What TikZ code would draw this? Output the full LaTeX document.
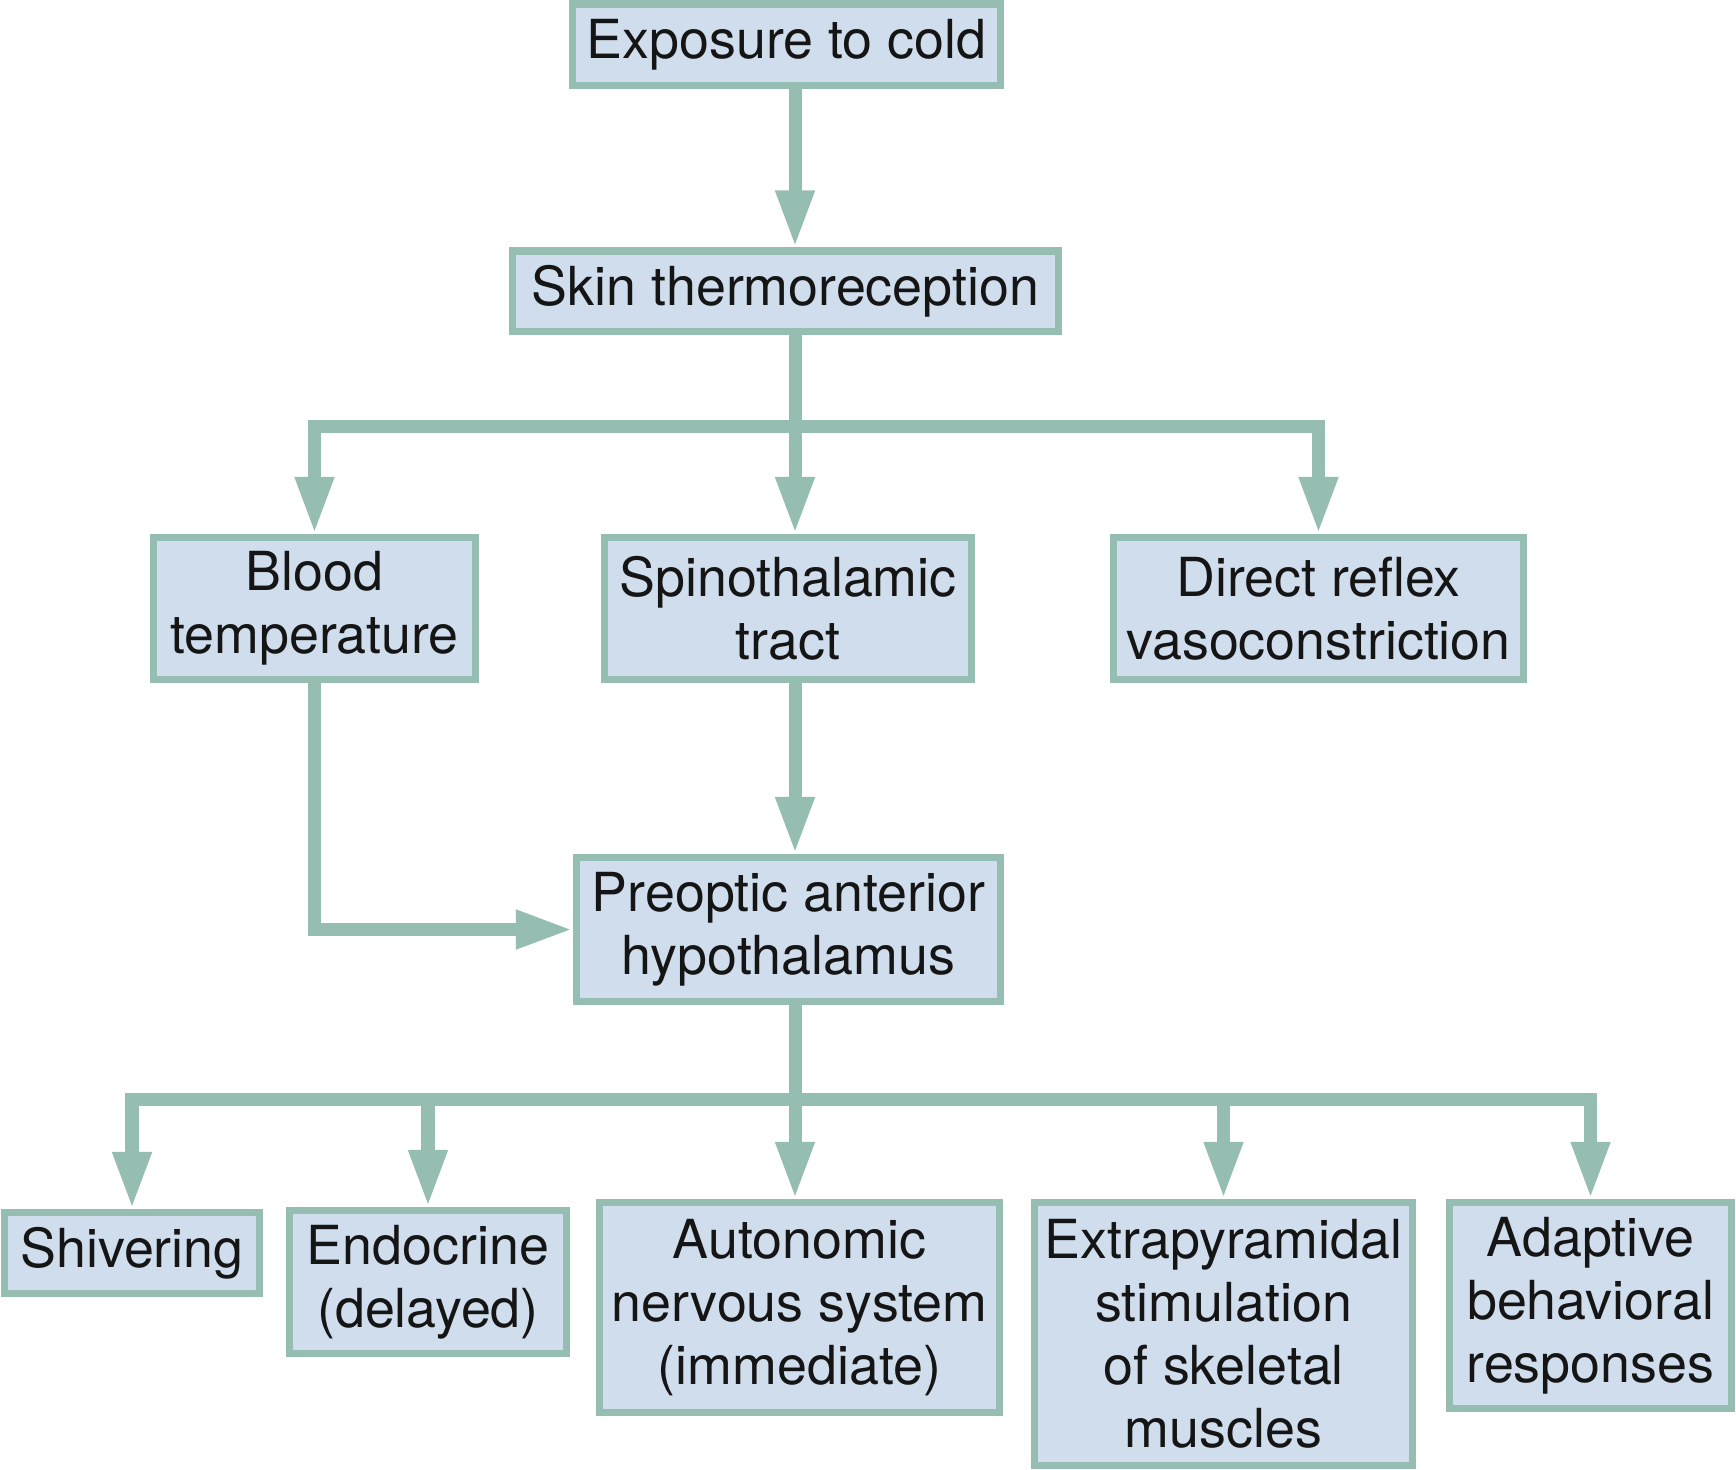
\documentclass[tikz,border=0pt]{standalone}
\usepackage{fontspec}
\setmainfont{TeX Gyre Heros}
\usepackage{tikz}
\usetikzlibrary{positioning, arrows.meta}
\definecolor{cLine}{HTML}{96BDB1}
\definecolor{cFill}{HTML}{CFDDED}
\definecolor{cInk}{HTML}{151515}

\begin{document}
\begin{tikzpicture}[x=0.01cm, y=-0.01cm, >={Triangle[length=0.57cm, width=0.36cm]},
  box/.style={draw=cLine, line width=2pt, fill=cFill, text=cInk, align=center, inner sep=0pt,
    font=\fontsize{15.3}{17.9}\selectfont},
  link/.style={cLine, line width=3.7pt}]
  \useasboundingbox (0,0) rectangle (1736,1469);
  % top chain
  \node[box, minimum width=4.28cm, minimum height=0.81cm] (expo) at (786.5,44.5) {Exposure to cold};
  \node[box, minimum width=5.46cm, minimum height=0.80cm] (skin) at (785.5,291) {Skin thermoreception};
  % middle row
  \node[box, minimum width=3.22cm, minimum height=1.42cm] (blood) at (314.5,608.5) {Blood\\temperature};
  \node[box, minimum width=3.67cm, minimum height=1.42cm] (spino) at (788,608.5) {Spinothalamic\\tract};
  \node[box, minimum width=4.10cm, minimum height=1.42cm] (direct) at (1318.5,608.5) {Direct reflex\\vasoconstriction};
  \node[box, minimum width=4.24cm, minimum height=1.44cm] (preop) at (788.5,929.5) {Preoptic anterior\\hypothalamus};
  % responses
  \node[box, minimum width=2.55cm, minimum height=0.81cm] (shiv) at (132,1253) {Shivering};
  \node[box, minimum width=2.77cm, minimum height=1.43cm] (endo) at (428,1282) {Endocrine\\(delayed)};
  \node[box, minimum width=4.00cm, minimum height=2.10cm] (auto) at (799.5,1307.5) {Autonomic\\nervous system\\(immediate)};
  \node[box, minimum width=3.78cm, minimum height=2.63cm] (extra) at (1223.5,1334) {Extrapyramidal\\stimulation\\of skeletal\\muscles};
  \node[box, minimum width=2.82cm, minimum height=2.06cm] (adapt) at (1590.5,1305.5) {Adaptive\\behavioral\\responses};
  \coordinate (j1) at (795,426);
  \coordinate (j2) at (795,1099);
  % connectors
  \draw[link, ->] (expo.south -| j1) -- (skin.north -| j1);
  \draw[link] (skin.south -| j1) -- (j1);
  \draw[link, ->] (j1) -| (blood);
  \draw[link, ->] (j1) -- (j1 |- spino.north);
  \draw[link, ->] (j1) -| (direct);
  \draw[link, ->] (spino.south -| j1) -- (preop.north -| j1);
  \draw[link, ->] (blood) |- (preop);
  \draw[link] (preop.south -| j2) -- (j2);
  \foreach \n in {shiv, endo, extra, adapt}
    \draw[link, ->] (j2) -| (\n);
  \draw[link, ->] (j2) -- (j2 |- auto.north);
\end{tikzpicture}
\end{document}
